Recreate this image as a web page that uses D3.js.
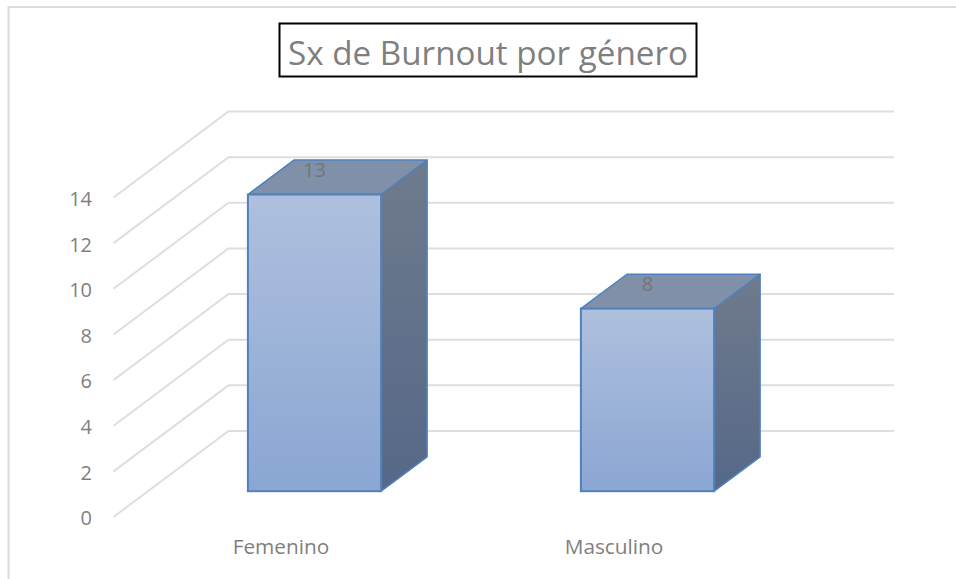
<!DOCTYPE html>
<html><head><meta charset="utf-8">
<style>html,body{margin:0;padding:0;background:#fff}svg{display:block}text{font-family:"Open Sans","Noto Sans",sans-serif}</style>
<script src="https://cdn.jsdelivr.net/npm/d3@7/dist/d3.min.js"></script>
</head><body><svg id="c" width="956" height="579"></svg>
<script>
const categories = ["Femenino", "Masculino"];
const values = [13, 8];
const yTicks = [0, 2, 4, 6, 8, 10, 12, 14];
const titleText = "Sx de Burnout por género";

const svg = d3.select("#c");
const defs = svg.append("defs");
function grad(id, a, b, x2, y2) {
  const g = defs.append("linearGradient").attr("id", id).attr("x1", 0).attr("y1", 0).attr("x2", x2).attr("y2", y2);
  g.append("stop").attr("offset", 0).attr("stop-color", a);
  g.append("stop").attr("offset", 1).attr("stop-color", b);
}
grad("front", "#afc0de", "#8aa6d3", 0, 1);
grad("side", "#6f7b8d", "#566888", 0, 1);

// frame
svg.append("path").attr("d", "M8.5,579V7H956").attr("fill", "none").attr("stroke", "#dcdcdc").attr("stroke-width", 2);

// scales: front plane of the 3D box
const y = d3.scaleLinear().domain([0, 14]).range([517, 197.5]);
const x = d3.scaleBand().domain(categories).range([113.5, 779.5]).paddingInner(0.6).paddingOuter(0.3);
const depthX = 115, depthY = -86, wallRight = 894;
const barNear = 0.3, barFar = 0.7;

// gridlines (floor/side wall diagonal + back wall)
svg.append("g").selectAll("path").data(yTicks).join("path")
  .attr("d", d => `M${x.range()[0]},${y(d)}l${depthX},${depthY}H${wallRight}`)
  .attr("fill", "none").attr("stroke", "#dedede").attr("stroke-width", 2);

// axis labels
const yAxis = d3.axisLeft(y).tickValues(yTicks).tickSize(0).tickPadding(21);
const gy = svg.append("g").attr("transform", "translate(113,1.5)").call(yAxis);
gy.select(".domain").remove();
gy.selectAll("text").attr("font-size", 20).attr("fill", "#7f7f7f").style("font-family", '"Open Sans","Noto Sans",sans-serif');

const xAxis = d3.axisBottom(x).tickSize(0).tickPadding(0);
const gx = svg.append("g").attr("transform", "translate(1,539)").call(xAxis);
gx.select(".domain").remove();
gx.selectAll("text").attr("font-size", 20.8).attr("fill", "#7f7f7f").style("font-family", '"Open Sans","Noto Sans",sans-serif');

// 3D bars
const bars = svg.append("g").selectAll("g").data(categories.map((c, i) => ({c, v: values[i]}))).join("g");
const ox = depthX * barNear, oy = depthY * barNear;
const dx = depthX * (barFar - barNear), dy = depthY * (barFar - barNear);
const stroke = "#4f81bd";
bars.each(function(d) {
  const g = d3.select(this);
  const x0 = x(d.c) + ox, x1 = x0 + x.bandwidth();
  const yb = y(0) + oy, yt = y(d.v) + oy;
  g.append("path").attr("d", `M${x1},${yt}l${dx},${dy}V${yb + dy}L${x1},${yb}Z`)
    .attr("fill", "url(#side)").attr("stroke", stroke).attr("stroke-width", 1.5).attr("stroke-linejoin", "round");
  g.append("path").attr("d", `M${x0},${yt}l${dx},${dy}H${x1 + dx}L${x1},${yt}Z`)
    .attr("fill", "#8090a8").attr("stroke", stroke).attr("stroke-width", 1.5).attr("stroke-linejoin", "round");
  g.append("rect").attr("x", x0).attr("y", yt).attr("width", x1 - x0).attr("height", yb - yt)
    .attr("fill", "url(#front)").attr("stroke", stroke).attr("stroke-width", 2);
  g.append("text").attr("x", (x0 + x1) / 2).attr("y", yt - 18).attr("text-anchor", "middle")
    .attr("font-size", 20).attr("fill", "#757575").text(d.v);
});

// title
svg.append("rect").attr("x", 279.5).attr("y", 23.5).attr("width", 417).attr("height", 53)
  .attr("fill", "#fff").attr("stroke", "#000").attr("stroke-width", 2);
svg.append("text").attr("x", 488).attr("y", 65).attr("text-anchor", "middle")
  .attr("font-size", 33.2).attr("fill", "#7f7f7f").text(titleText);
</script></body></html>
